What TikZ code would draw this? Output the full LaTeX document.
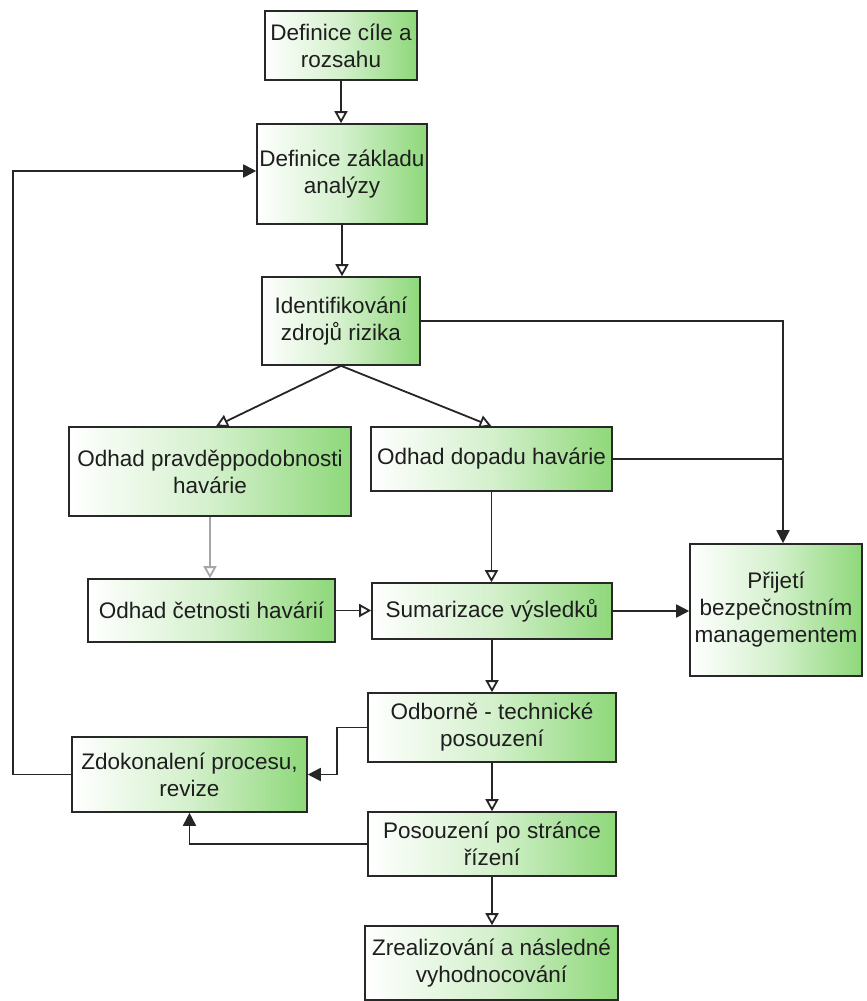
\documentclass[tikz,border=0pt]{standalone}
\usepackage{fontspec}
\setmainfont{Liberation Sans}
\usetikzlibrary{arrows.meta,calc}
\definecolor{boxgreen}{RGB}{142,216,122}
\definecolor{txt}{RGB}{30,30,30}
\definecolor{edge}{RGB}{40,40,40}
\tikzset{
  flowbox/.style={draw=edge, line width=1.6pt, left color=white, right color=boxgreen,
    middle color=boxgreen!38!white,
    inner sep=0pt, align=center, text=txt, font=\fontsize{22.5}{27}\selectfont},
  conn/.style={draw=black!85, line width=1.8pt},
  openarr/.style={conn, -{Triangle[open,length=12pt,width=13pt,fill=white]}},
  fillarr/.style={conn, -{Triangle[length=13pt,width=13pt]}},
}
\begin{document}
\begin{tikzpicture}[x=1pt,y=-1pt]
\useasboundingbox (0,0) rectangle (867,1001);
\fill[white] (0,0) rectangle (867,1001);
% boxes (center x, center y, width, height from reference pixels)
\node[flowbox, minimum width=152pt, minimum height=69pt] (b1) at (341,45.5) {Definice cíle a\\rozsahu};
\node[flowbox, minimum width=170pt, minimum height=100pt] (b2) at (342,174) {Definice základu\\analýzy};
\node[flowbox, minimum width=158pt, minimum height=88pt] (b3) at (341,321) {Identifikování\\zdrojů rizika};
\node[flowbox, minimum width=282pt, minimum height=89pt] (b4) at (210,471.5) {Odhad pravděppodobnosti\\havárie};
\node[flowbox, minimum width=241pt, minimum height=64pt] (b5) at (491.5,459) {Odhad dopadu havárie};
\node[flowbox, minimum width=247pt, minimum height=63pt] (b6) at (211.5,610.5) {Odhad četnosti havárií};
\node[flowbox, minimum width=240pt, minimum height=56pt] (b7) at (492,611) {Sumarizace výsledků};
\node[flowbox, minimum width=172pt, minimum height=132pt] (b8) at (776,610) {Přijetí\\bezpečnostním\\managementem};
\node[flowbox, minimum width=248pt, minimum height=69pt] (b9) at (492,727.5) {Odborně - technické\\posouzení};
\node[flowbox, minimum width=235pt, minimum height=75pt] (b10) at (189.5,774.5) {Zdokonalení procesu,\\revize};
\node[flowbox, minimum width=248pt, minimum height=64pt] (b11) at (492,844) {Posouzení po stránce\\řízení};
\node[flowbox, minimum width=253pt, minimum height=74pt] (b12) at (491.5,963) {Zrealizování a následné\\vyhodnocování};
% helper coordinates
\coordinate (rx) at (783,0);
\coordinate (lx) at (13,0);
\coordinate (mx) at (337,0);
% main flow
\draw[openarr] (b1.south) -- (b1.south |- b2.north);
\draw[openarr] (b2.south) -- (b2.south |- b3.north);
\draw[openarr] (b3.south) -- ([xshift=6pt]b4.north);
\draw[openarr] (b3.south) -- (b5.north);
\draw[openarr, draw=black!35] (b4.south) -- (b4.south |- b6.north);
\draw[openarr] (b6.east) -- (b6.east -| b7.west);
\draw[openarr] (b5.south) -- (b5.south |- b7.north);
\draw[openarr] (b7.south) -- (b7.south |- b9.north);
\draw[openarr] (b9.south) -- (b9.south |- b11.north);
\draw[openarr] (b11.south) -- (b11.south |- b12.north);
% to management
\draw[fillarr] (b3.east) -- (b3.east -| rx) -- (rx |- b8.north);
\draw[conn] (b5.east) -- (b5.east -| rx);
\draw[fillarr] (b7.east) -- (b7.east -| b8.west);
% feedback
\draw[fillarr] (b9.west) -- (b9.west -| mx) -- (mx |- b10.east) -- (b10.east);
\draw[fillarr] (b11.west) -- (b11.west -| b10.south) -- (b10.south);
\draw[fillarr] (b10.west) -- (b10.west -| lx) -- ([yshift=3pt]lx |- b2.west) -- ([yshift=3pt]b2.west);
\end{tikzpicture}
\end{document}
